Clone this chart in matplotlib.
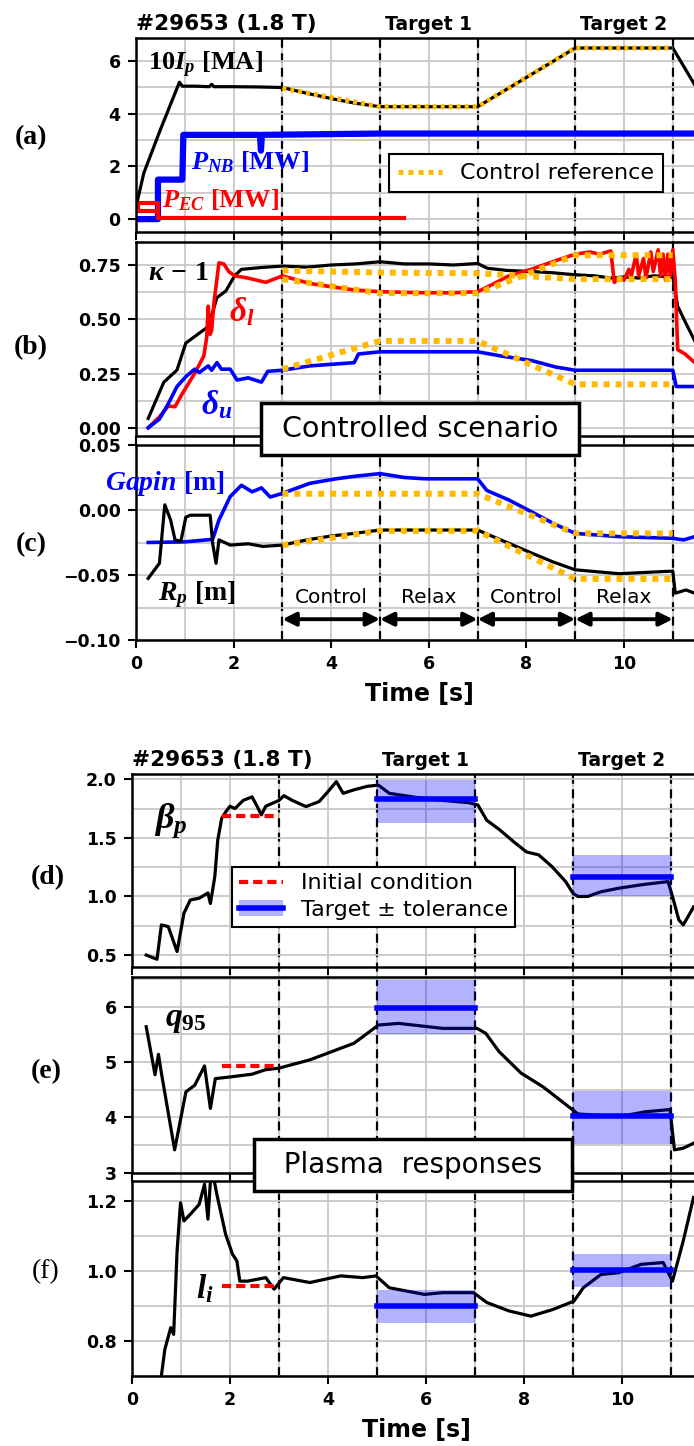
import matplotlib.pyplot as plt
from matplotlib.lines import Line2D
from matplotlib.patches import Patch
from matplotlib.ticker import MultipleLocator

plt.rcParams['font.family'] = ['DejaVu Sans']
plt.rcParams['font.weight'] = 'bold'
plt.rcParams['mathtext.fontset'] = 'custom'
plt.rcParams['mathtext.rm'] = 'Liberation Serif:bold'
plt.rcParams['mathtext.it'] = 'Liberation Serif:italic:bold'
plt.rcParams['mathtext.bf'] = 'Liberation Serif:bold'

# ---- shared timing ----
ref_t = [3, 5, 7, 9, 11]
grid_t = [1, 2, 3, 4, 5, 6, 7, 8, 9, 10, 11]
phase_start = [3, 5, 7, 9]
phase_end = [5, 7, 9, 11]
phase_names = ['Control', 'Relax', 'Control', 'Relax']
target_names = ['Target 1', 'Target 2']
target_mid = [6, 10]

# ---- (a) plasma current and heating ----
ip_t = [0.03, 0.16, 0.5, 0.89, 0.95, 1.2, 1.5, 1.55, 1.6, 2.0,
        2.5, 3.0, 3.5, 4.0, 4.5, 5.0, 6.0, 7.0, 8.0, 9.0,
        10.0, 11.0, 11.45]
ip_y = [0.7, 1.75, 3.4, 5.2, 5.05, 5.05, 5.03, 5.12, 5.03, 5.03,
        5.02, 5.0, 4.78, 4.58, 4.4, 4.27, 4.27, 4.27, 5.38, 6.5,
        6.5, 6.5, 5.1]
ip_ref = [4.97, 4.27, 4.27, 6.5, 6.5]

nb_t = [0.03, 0.45, 0.45, 0.95, 0.97, 2.54, 2.56, 2.58, 5.0, 8.0, 11.0, 11.45]
nb_y = [0.0, 0.0, 1.5, 1.5, 3.2, 3.2, 2.6, 3.2, 3.25, 3.25, 3.25, 3.25]

ec_t = [0.45, 0.05, 0.05, 0.45, 0.45, 5.5]
ec_y = [0.32, 0.32, 0.62, 0.62, 0.03, 0.03]

# ---- (b) shape ----
kap_t = [0.25, 0.57, 0.84, 1.02, 1.2, 1.48, 1.66, 1.84, 2.02, 2.16,
         2.4, 2.66, 3.0, 3.5, 4.0, 4.5, 5.0, 5.5, 6.0, 6.5,
         7.0, 7.2, 7.6, 8.1, 8.5, 9.0, 9.4, 9.73, 10.0, 10.3,
         10.6, 11.0, 11.1, 11.25, 11.45]
kap_y = [0.043, 0.21, 0.266, 0.39, 0.42, 0.466, 0.60, 0.63, 0.70, 0.73,
         0.735, 0.74, 0.745, 0.74, 0.75, 0.755, 0.765, 0.755, 0.755, 0.75,
         0.757, 0.735, 0.725, 0.72, 0.715, 0.705, 0.70, 0.69, 0.695, 0.69,
         0.70, 0.695, 0.56, 0.49, 0.40]
kap_ref = [0.725, 0.715, 0.712, 0.685, 0.685]

dl_t = [0.25, 0.48, 0.66, 0.8, 0.93, 1.2, 1.39, 1.45, 1.48, 1.52,
        1.55, 1.6, 1.7, 1.8, 1.9, 2.02, 2.29, 2.66, 3.0, 3.56,
        4.0, 4.47, 5.0, 5.9, 6.5, 7.0, 7.3, 7.64, 8.1, 8.6,
        9.0, 9.3, 9.5, 9.73, 9.8, 9.9, 10.0, 10.1, 10.15, 10.25,
        10.3, 10.4, 10.45, 10.55, 10.6, 10.7, 10.75, 10.8, 10.85, 10.9,
        10.95, 11.0, 11.05, 11.1, 11.25, 11.45]
dl_y = [0.0, 0.05, 0.10, 0.097, 0.15, 0.25, 0.33, 0.42, 0.56, 0.43,
        0.45, 0.58, 0.76, 0.755, 0.72, 0.70, 0.69, 0.67, 0.70, 0.665,
        0.65, 0.635, 0.627, 0.622, 0.622, 0.627, 0.66, 0.70, 0.73, 0.77,
        0.80, 0.81, 0.80, 0.815, 0.67, 0.69, 0.68, 0.73, 0.70, 0.80,
        0.70, 0.78, 0.69, 0.81, 0.72, 0.82, 0.70, 0.80, 0.68, 0.80,
        0.70, 0.82, 0.68, 0.36, 0.34, 0.30]
dl_ref = [0.685, 0.62, 0.62, 0.795, 0.795]

du_t = [0.25, 0.48, 0.66, 0.84, 1.02, 1.2, 1.3, 1.48, 1.55, 1.66,
        1.75, 1.93, 2.07, 2.3, 2.57, 2.7, 3.0, 3.56, 4.29, 4.47,
        4.56, 5.0, 6.0, 7.0, 7.5, 8.1, 8.6, 9.0, 10.0, 11.0,
        11.07, 11.45]
du_y = [0.0, 0.04, 0.11, 0.19, 0.235, 0.27, 0.255, 0.285, 0.265, 0.30,
        0.27, 0.27, 0.22, 0.23, 0.21, 0.26, 0.265, 0.285, 0.297, 0.30,
        0.34, 0.35, 0.35, 0.35, 0.33, 0.31, 0.28, 0.265, 0.265, 0.265,
        0.19, 0.19]
du_ref = [0.27, 0.40, 0.40, 0.20, 0.20]

# ---- (c) position ----
gap_t = [0.25, 1.0, 1.57, 1.7, 1.93, 2.16, 2.38, 2.57, 2.75, 3.0,
         3.56, 4.1, 4.5, 5.0, 5.5, 5.92, 6.5, 7.0, 7.19, 7.64,
         8.1, 8.55, 9.0, 9.9, 11.0, 11.22, 11.45]
gap_y = [-0.025, -0.0245, -0.0226, -0.0077, 0.0103, 0.019, 0.014, 0.017, 0.010, 0.0128,
         0.0205, 0.024, 0.026, 0.028, 0.025, 0.024, 0.024, 0.024, 0.015, 0.0077,
         -0.0013, -0.0103, -0.018, -0.0205, -0.0218, -0.023, -0.0205]
gap_ref = [0.0125, 0.0125, 0.0125, -0.018, -0.018]

rp_t = [0.25, 0.48, 0.59, 0.71, 0.8, 0.92, 1.02, 1.11, 1.52, 1.57,
        1.64, 1.7, 1.93, 2.3, 2.6, 3.0, 3.5, 4.0, 4.47, 5.0,
        6.0, 7.0, 7.64, 8.1, 8.55, 9.0, 9.9, 11.0, 11.05, 11.27,
        11.45]
rp_y = [-0.0526, -0.041, 0.004, -0.0077, -0.023, -0.024, -0.0056, -0.004, -0.004, -0.0256,
        -0.041, -0.023, -0.027, -0.026, -0.028, -0.027, -0.023, -0.020, -0.018, -0.0154,
        -0.0154, -0.0154, -0.0256, -0.033, -0.040, -0.046, -0.049, -0.047, -0.064, -0.0615,
        -0.064]
rp_ref = [-0.027, -0.016, -0.016, -0.053, -0.053]

# ---- (d)-(f) responses ----
init_t = [1.83, 3.0]
tgt_t0 = [5, 9]
tgt_t1 = [7, 11]

bp_t = [0.29, 0.51, 0.6, 0.74, 0.92, 1.06, 1.19, 1.37, 1.55, 1.6,
        1.69, 1.75, 1.83, 1.91, 2.0, 2.1, 2.27, 2.45, 2.54, 2.64,
        2.73, 3.0, 3.1, 3.27, 3.55, 3.82, 4.0, 4.17, 4.31, 4.53,
        4.8, 5.03, 5.25, 5.88, 6.34, 6.88, 7.06, 7.24, 7.5, 7.78,
        8.05, 8.3, 8.57, 8.85, 9.0, 9.1, 9.3, 9.57, 9.93, 10.4,
        10.94, 11.03, 11.16, 11.25, 11.46]
bp_y = [0.5, 0.464, 0.757, 0.743, 0.53, 0.857, 0.97, 0.985, 1.03, 0.94,
        1.17, 1.48, 1.667, 1.72, 1.77, 1.75, 1.82, 1.85, 1.78, 1.696,
        1.77, 1.82, 1.86, 1.82, 1.767, 1.81, 1.895, 1.98, 1.88, 1.91,
        1.94, 1.95, 1.88, 1.84, 1.82, 1.80, 1.78, 1.65, 1.57, 1.47,
        1.38, 1.355, 1.255, 1.127, 1.027, 1.0, 1.0, 1.04, 1.07, 1.10,
        1.127, 1.0, 0.8, 0.757, 0.91]
bp_init = 1.69
bp_tgt = [1.83, 1.165]
bp_lo = [1.625, 1.0]
bp_hi = [1.99, 1.355]

q_t = [0.29, 0.47, 0.54, 0.6, 0.87, 1.1, 1.28, 1.48, 1.6, 1.7,
       2.0, 2.45, 2.72, 3.0, 3.63, 4.53, 5.03, 5.44, 6.34, 7.04,
       7.22, 7.49, 7.94, 8.39, 9.0, 9.1, 9.93, 10.48, 10.98, 11.07,
       11.25, 11.46]
q_y = [5.64, 4.77, 5.14, 4.8, 3.41, 4.46, 4.58, 4.93, 4.16, 4.7,
       4.73, 4.78, 4.86, 4.89, 5.04, 5.34, 5.67, 5.70, 5.61, 5.61,
       5.52, 5.19, 4.8, 4.55, 4.13, 4.06, 4.01, 4.1, 4.14, 3.41,
       3.44, 3.53]
q_init = 4.92
q_tgt = [5.97, 4.02]
q_lo = [5.5, 3.51]
q_hi = [6.48, 4.48]

li_t = [0.58, 0.67, 0.79, 0.85, 0.92, 0.99, 1.06, 1.19, 1.37, 1.48,
        1.55, 1.62, 1.73, 1.91, 2.05, 2.14, 2.2, 2.36, 2.73, 2.9,
        3.09, 3.63, 4.26, 4.71, 4.98, 5.25, 5.97, 6.34, 6.97, 7.24,
        7.69, 8.14, 8.59, 9.02, 9.21, 9.57, 9.93, 10.39, 10.84, 11.03,
        11.25, 11.46]
li_y = [0.68, 0.776, 0.838, 0.819, 1.057, 1.195, 1.143, 1.162, 1.19, 1.248,
        1.148, 1.30, 1.22, 1.105, 1.048, 1.029, 0.971, 0.971, 0.981, 0.948,
        0.981, 0.967, 0.986, 0.981, 0.986, 0.952, 0.933, 0.938, 0.938, 0.91,
        0.886, 0.871, 0.89, 0.914, 0.952, 0.99, 0.995, 1.019, 1.024, 0.971,
        1.086, 1.21]
li_init = 0.957
li_tgt = [0.90, 1.002]
li_lo = [0.852, 0.954]
li_hi = [0.945, 1.048]

W, H = 694, 1446
TMAX = 11.6
ORANGE = '#ffb900'
GRID = '#c8c8c8'
VDASH = (0, (4, 2.5))


def box(left, top, width, height):
    return [left / W, 1 - (top + height) / H, width / W, height / H]


def backdrop(fig, rect):
    bg = fig.add_axes(rect, zorder=0)
    bg.set_xlim(0, TMAX)
    bg.set_ylim(0, 1)
    bg.axis('off')
    for t in grid_t:
        bg.axvline(t, color=GRID, lw=1.3)
    for t in ref_t:
        bg.axvline(t, color='k', lw=1.6, ls=VDASH)
    return bg


def panel(fig, rect, ylim, major, minor, xlabels=False):
    ax = fig.add_axes(rect, zorder=1)
    ax.set_facecolor('none')
    ax.set_xlim(0, TMAX)
    ax.set_ylim(*ylim)
    ax.xaxis.set_major_locator(MultipleLocator(2))
    ax.yaxis.set_major_locator(MultipleLocator(major))
    ax.yaxis.set_minor_locator(MultipleLocator(minor))
    ax.grid(axis='y', which='both', color=GRID, lw=1.3)
    ax.set_axisbelow(True)
    ax.tick_params(which='major', direction='out', length=6, width=1.5,
                   labelsize=12.5, pad=5)
    ax.tick_params(which='minor', length=0)
    ax.tick_params(labelbottom=xlabels)
    ax.spines['right'].set_visible(False)
    for s in ax.spines.values():
        s.set_linewidth(1.8)
    if xlabels:
        ax.set_xlabel('Time [s]', fontsize=17, fontweight='bold', labelpad=6)
    return ax


def top_labels(ax):
    for name, t in zip(target_names, target_mid):
        ax.annotate(name, xy=(t, 1.0), xycoords=('data', 'axes fraction'),
                    xytext=(0, 3), textcoords='offset points',
                    ha='center', va='bottom', fontsize=13.5, fontweight='bold')
    ax.annotate('#29653 (1.8 T)', xy=(0, 1.0), xycoords='axes fraction',
                xytext=(0, 3), textcoords='offset points',
                ha='left', va='bottom', fontsize=15.5, fontweight='bold')


def targets(ax, init, tgt, lo, hi):
    ax.plot(init_t, [init, init], color='red', lw=3, ls=(0, (2.2, 1.2)), zorder=3)
    for t0, t1, v, a, b in zip(tgt_t0, tgt_t1, tgt, lo, hi):
        ax.fill_between([t0, t1], [a, a], [b, b], color='blue', alpha=0.3, lw=0, zorder=3)
        ax.plot([t0, t1], [v, v], color='blue', lw=4, zorder=4)


def boxed_label(fig, x, y, text, size):
    fig.text(x / W, 1 - y / H, text, fontsize=size, fontweight='normal',
             ha='center', va='center', zorder=10,
             bbox=dict(boxstyle='square,pad=0.42', fc='white', ec='black', lw=2.5))


fig = plt.figure(figsize=(W / 100, H / 100), dpi=100)

# ================= upper group =================
up_w = TMAX * 48.8
backdrop(fig, box(136, 38, up_w, 602))

ax_a = panel(fig, box(136, 38, up_w, 194), (-0.49, 6.88), 2, 1)
ax_a.plot(nb_t, nb_y, color='blue', lw=4.5)
ax_a.plot(ec_t, ec_y, color='red', lw=3)
ax_a.plot(ip_t, ip_y, color='black', lw=2.3)
ax_a.plot(ref_t, ip_ref, color=ORANGE, lw=3.6, ls=(0, (0.8, 0.8)),
          label='Control reference')
ax_a.text(0.25, 5.86, r'$10I_p\ \mathrm{[MA]}$', fontsize=19, ha='left', va='center')
ax_a.text(2.34, 2.15, r'$P_{NB}\ \mathrm{[MW]}$', fontsize=19, ha='center', va='center', color='blue')
ax_a.text(1.74, 0.72, r'$P_{EC}\ \mathrm{[MW]}$', fontsize=19, ha='center', va='center', color='red')
leg = ax_a.legend(loc='upper left', bbox_to_anchor=(0.447, 0.40), borderaxespad=0,
                  fancybox=False, edgecolor='black', framealpha=1,
                  prop={'size': 16, 'weight': 'normal'}, handlelength=2.0)
leg.get_frame().set_linewidth(1.5)
leg.get_lines()[0].set_linestyle((0, (1, 1)))
top_labels(ax_a)

ax_b = panel(fig, box(136, 242, up_w, 194), (-0.038, 0.856), 0.25, 0.125)
ax_b.plot(kap_t, kap_y, color='black', lw=2.3)
ax_b.plot(dl_t, dl_y, color='red', lw=2.6)
ax_b.plot(du_t, du_y, color='blue', lw=2.6)
for ref in (kap_ref, dl_ref, du_ref):
    ax_b.plot(ref_t, ref, color=ORANGE, lw=4.3, ls=(0, (1, 1)))
ax_b.text(0.87, 0.72, r'$\kappa\,-\,1$', fontsize=20, ha='center', va='center')
ax_b.text(2.16, 0.535, r'$\delta_l$', fontsize=24, ha='center', va='center', color='red')
ax_b.text(1.66, 0.105, r'$\delta_u$', fontsize=24, ha='center', va='center', color='blue')

ax_c = panel(fig, box(136, 445, up_w, 195), (-0.10, 0.05), 0.05, 0.025, xlabels=True)
ax_c.plot(gap_t, gap_y, color='blue', lw=2.6)
ax_c.plot(rp_t, rp_y, color='black', lw=2.3)
for ref in (gap_ref, rp_ref):
    ax_c.plot(ref_t, ref, color=ORANGE, lw=4.3, ls=(0, (1, 1)))
ax_c.text(0.6, 0.0205, r'$Gapin\ \mathrm{[m]}$', fontsize=20, ha='center', va='center', color='blue')
ax_c.text(1.25, -0.065, r'$R_p\ \mathrm{[m]}$', fontsize=20, ha='center', va='center')
for t0, t1, name in zip(phase_start, phase_end, phase_names):
    ax_c.annotate('', xy=(t1, -0.084), xytext=(t0, -0.084),
                  arrowprops=dict(arrowstyle='<|-|>', color='black', lw=2.8,
                                  mutation_scale=20, shrinkA=0, shrinkB=0))
    ax_c.text((t0 + t1) / 2, -0.067, name, fontsize=14.5, fontweight='normal',
              ha='center', va='center')

boxed_label(fig, 420, 429, ' Controlled scenario ', 20.5)

# ================= lower group =================
lo_w = TMAX * 49.0
backdrop(fig, box(132, 774, lo_w, 602))

ax_d = panel(fig, box(132, 774, lo_w, 193), (0.398, 2.045), 0.5, 0.25)
ax_d.plot(bp_t, bp_y, color='black', lw=2.3)
targets(ax_d, bp_init, bp_tgt, bp_lo, bp_hi)
ax_d.text(0.8, 1.65, r'$\beta_p$', fontsize=26, ha='center', va='center')
handles = [Line2D([], [], color='red', lw=3, ls=(0, (2.2, 1.2))),
           (Patch(facecolor='blue', alpha=0.3, lw=0), Line2D([], [], color='blue', lw=4))]
leg_d = ax_d.legend(handles, ['Initial condition', 'Target ± tolerance'],
                    loc='upper left', bbox_to_anchor=(0.176, 0.52), borderaxespad=0,
                    fancybox=False, edgecolor='black', framealpha=1,
                    prop={'size': 16, 'weight': 'normal'}, handlelength=2.0,
                    labelspacing=0.3, borderpad=0.3)
leg_d.get_frame().set_linewidth(1.5)
top_labels(ax_d)

ax_e = panel(fig, box(132, 977, lo_w, 195.5), (3.0, 6.54), 1, 0.5)
ax_e.plot(q_t, q_y, color='black', lw=2.3)
targets(ax_e, q_init, q_tgt, q_lo, q_hi)
ax_e.text(1.1, 5.79, r'$q_{95}$', fontsize=24, ha='center', va='center')

ax_f = panel(fig, box(132, 1181, lo_w, 195), (0.70, 1.257), 0.2, 0.1, xlabels=True)
ax_f.plot(li_t, li_y, color='black', lw=2.3)
targets(ax_f, li_init, li_tgt, li_lo, li_hi)
ax_f.text(1.48, 0.95, r'$l_i$', fontsize=24, ha='center', va='center')

boxed_label(fig, 413, 1165, '  Plasma  responses  ', 20)

# panel tags
tags = ['(a)', '(b)', '(c)', '(d)', '(e)', '(f)']
tag_x = [31, 31, 31, 48, 46, 46]
tag_y = [138, 348, 545, 878, 1072, 1272]
for tag, x, y in zip(tags, tag_x, tag_y):
    fig.text(x / W, 1 - y / H, tag, fontsize=20, family='Liberation Serif',
             fontweight='normal' if tag == '(f)' else 'bold', ha='center', va='center')

fig.savefig('out.png', dpi=100)
